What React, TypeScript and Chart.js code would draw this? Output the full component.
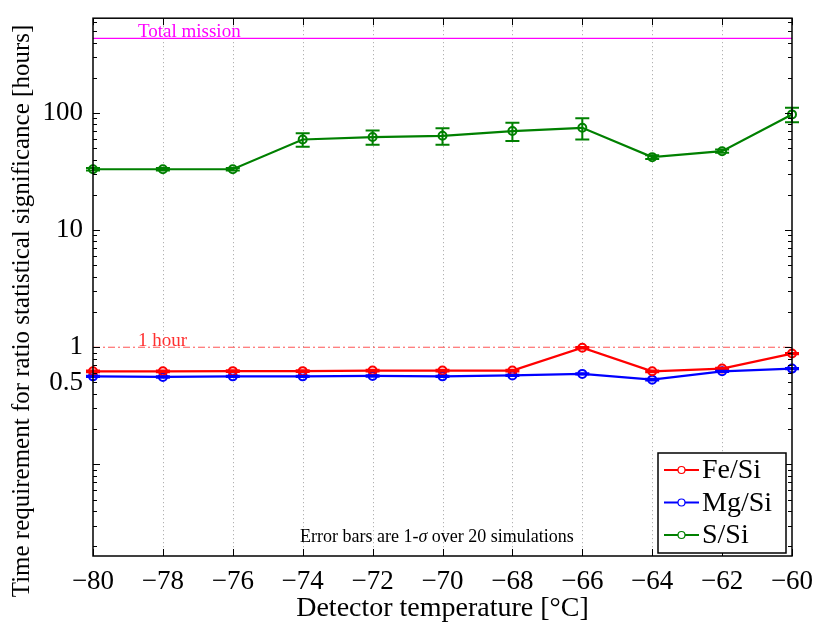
import { useEffect, useRef } from 'react';
import { Chart, registerables } from 'chart.js';
Chart.register(...registerables);

const TEMPS = [-80, -78, -76, -74, -72, -70, -68, -66, -64, -62, -60];
const FE_SI = [0.623, 0.623, 0.625, 0.625, 0.632, 0.632, 0.632, 0.99, 0.623, 0.657, 0.883];
const MG_SI = [0.564, 0.558, 0.564, 0.564, 0.569, 0.564, 0.575, 0.592, 0.529, 0.623, 0.657];
const S_SI = [33.1, 33.1, 33.1, 59.4, 62.3, 63.9, 70.1, 74.8, 42.0, 47.2, 97.3];
const FE_ERR = [0.01, 0.01, 0.01, 0.01, 0.01, 0.01, 0.01, 0.015, 0.01, 0.01, 0.012];
const MG_ERR = [0.008, 0.008, 0.008, 0.008, 0.008, 0.008, 0.008, 0.008, 0.008, 0.008, 0.008];
const S_ERR = [0.8, 0.8, 0.8, 7.9, 8.6, 10.3, 12.3, 15.4, 1.5, 1.5, 13.8];
const SERIES_LABELS = ['Fe/Si', 'Mg/Si', 'S/Si'];
const SERIES_COLORS = ['#ff0000', '#0000ff', '#008000'];
const TOTAL_MISSION = 433;
const ONE_HOUR = 1;
const Y_TICKS = [0.5, 1, 10, 100];
const X_TICKS = [-80, -78, -76, -74, -72, -70, -68, -66, -64, -62, -60];
const Y_MIN = 0.0165;
const Y_MAX = 645;
const TOTAL_LABEL = 'Total mission';
const HOUR_LABEL = '1 hour';
const NOTE_PARTS = ['Error bars are 1-', '\u03c3', ' over 20 simulations'];
const Y_TITLE = 'Time requirement for ratio statistical significance [hours]';
const X_TITLE = 'Detector temperature [\u00b0C]';

const FONT = "'Liberation Serif', 'Times New Roman', serif";

const fmtX = (v: number) => (v < 0 ? '\u2212' + Math.abs(v) : String(v));

const decor = {
  id: 'decor',
  beforeDatasetsDraw(chart: any) {
    const { ctx, chartArea: a, scales } = chart;
    const x = scales.x;
    ctx.save();
    ctx.strokeStyle = '#a0a0a0';
    ctx.lineWidth = 1;
    ctx.setLineDash([1, 3]);
    for (const t of X_TICKS) {
      if (t === X_TICKS[0] || t === X_TICKS[X_TICKS.length - 1]) continue;
      const px = Math.round(x.getPixelForValue(t)) + 0.5;
      ctx.beginPath();
      ctx.moveTo(px, a.top);
      ctx.lineTo(px, a.bottom);
      ctx.stroke();
    }
    ctx.restore();
  },
  afterDatasetsDraw(chart: any) {
    const { ctx, scales } = chart;
    const x = scales.x;
    const y = scales.y;
    const errs = [FE_ERR, MG_ERR, S_ERR];
    const vals = [FE_SI, MG_SI, S_SI];
    ctx.save();
    ctx.lineWidth = 2;
    for (let s = 0; s < 3; s++) {
      ctx.strokeStyle = SERIES_COLORS[s];
      TEMPS.forEach((t, i) => {
        const px = x.getPixelForValue(t);
        const lo = y.getPixelForValue(vals[s][i] - errs[s][i]);
        const hi = y.getPixelForValue(vals[s][i] + errs[s][i]);
        ctx.beginPath();
        ctx.moveTo(px, lo);
        ctx.lineTo(px, hi);
        ctx.moveTo(px - 7, lo);
        ctx.lineTo(px + 7, lo);
        ctx.moveTo(px - 7, hi);
        ctx.lineTo(px + 7, hi);
        ctx.stroke();
      });
    }
    ctx.restore();
  },
  afterDraw(chart: any) {
    const { ctx, chartArea: a, scales } = chart;
    const x = scales.x;
    const y = scales.y;
    ctx.save();
    ctx.strokeStyle = '#000';
    ctx.lineWidth = 1;
    for (const t of X_TICKS) {
      const px = Math.round(x.getPixelForValue(t)) + 0.5;
      ctx.beginPath();
      ctx.moveTo(px, a.bottom);
      ctx.lineTo(px, a.bottom - 7);
      ctx.moveTo(px, a.top);
      ctx.lineTo(px, a.top + 7);
      ctx.stroke();
    }
    for (let e = -2; e <= 2; e++) {
      for (let k = 1; k <= 9; k++) {
        const v = k * Math.pow(10, e);
        if (v < Y_MIN || v > Y_MAX) continue;
        const py = Math.round(y.getPixelForValue(v)) + 0.5;
        const len = k === 1 ? 7 : 4;
        ctx.beginPath();
        ctx.moveTo(a.left, py);
        ctx.lineTo(a.left + len, py);
        ctx.moveTo(a.right, py);
        ctx.lineTo(a.right - len, py);
        ctx.stroke();
      }
    }
    ctx.lineWidth = 1.5;
    ctx.strokeRect(a.left, a.top, a.right - a.left, a.bottom - a.top);

    // y title
    ctx.save();
    ctx.translate(22, 311);
    ctx.rotate(-Math.PI / 2);
    ctx.font = `25px ${FONT}`;
    ctx.fillStyle = '#000';
    ctx.textAlign = 'center';
    ctx.textBaseline = 'middle';
    ctx.fillText(Y_TITLE, 0, 0);
    ctx.restore();

    ctx.font = `19px ${FONT}`;
    ctx.textBaseline = 'alphabetic';
    ctx.textAlign = 'left';
    ctx.fillStyle = '#ff00ff';
    ctx.fillText(TOTAL_LABEL, a.left + 45, y.getPixelForValue(TOTAL_MISSION) - 1);
    ctx.fillStyle = '#ff3030';
    ctx.fillText(HOUR_LABEL, a.left + 45, y.getPixelForValue(ONE_HOUR) - 1.5);

    ctx.fillStyle = '#000';
    const f1 = `18px ${FONT}`;
    const f2 = `italic 18px ${FONT}`;
    ctx.font = f1;
    const w0 = ctx.measureText(NOTE_PARTS[0]).width;
    const w2 = ctx.measureText(NOTE_PARTS[2]).width;
    ctx.font = f2;
    const w1 = ctx.measureText(NOTE_PARTS[1]).width;
    const total = w0 + w1 + w2;
    let nx = a.left + (a.right - a.left) * 0.492 - total / 2;
    const ny = a.bottom - 14;
    ctx.font = f1;
    ctx.fillText(NOTE_PARTS[0], nx, ny);
    nx += w0;
    ctx.font = f2;
    ctx.fillText(NOTE_PARTS[1], nx, ny);
    nx += w1;
    ctx.font = f1;
    ctx.fillText(NOTE_PARTS[2], nx, ny);

    const bw = 128;
    const bh = 100;
    const bx = a.right - 6 - bw;
    const by = a.bottom - 3 - bh;
    ctx.fillStyle = '#fff';
    ctx.fillRect(bx, by, bw, bh);
    ctx.strokeStyle = '#000';
    ctx.lineWidth = 1.5;
    ctx.strokeRect(bx, by, bw, bh);
    ctx.font = `28px ${FONT}`;
    ctx.textBaseline = 'middle';
    SERIES_LABELS.forEach((lab, i) => {
      const ry = by + 17 + i * 32.5;
      ctx.strokeStyle = SERIES_COLORS[i];
      ctx.lineWidth = 2;
      ctx.beginPath();
      ctx.moveTo(bx + 6, ry);
      ctx.lineTo(bx + 41, ry);
      ctx.stroke();
      ctx.lineWidth = 1.2;
      ctx.fillStyle = '#fff';
      ctx.beginPath();
      ctx.arc(bx + 23.5, ry, 3.5, 0, Math.PI * 2);
      ctx.fill();
      ctx.stroke();
      ctx.fillStyle = '#000';
      ctx.fillText(lab, bx + 44, ry + 1);
    });
    ctx.restore();
  },
};

export default function App() {
  const ref = useRef<HTMLCanvasElement | null>(null);
  useEffect(() => {
    if (!ref.current) return;
    const mk = (arr: number[]) => TEMPS.map((t, i) => ({ x: t, y: arr[i] }));
    const seriesVals = [FE_SI, MG_SI, S_SI];
    const chart = new Chart(ref.current, {
      type: 'line',
      data: {
        datasets: [
          {
            label: 'Total mission',
            data: [
              { x: X_TICKS[0], y: TOTAL_MISSION },
              { x: X_TICKS[X_TICKS.length - 1], y: TOTAL_MISSION },
            ],
            borderColor: '#ff00ff',
            borderWidth: 1.3,
            pointRadius: 0,
          },
          {
            label: '1 hour',
            data: [
              { x: X_TICKS[0], y: ONE_HOUR },
              { x: X_TICKS[X_TICKS.length - 1], y: ONE_HOUR },
            ],
            borderColor: 'rgba(255,40,40,0.8)',
            borderWidth: 1,
            borderDash: [7, 3, 2, 3],
            pointRadius: 0,
          },
          ...SERIES_LABELS.map((lab, i) => ({
            label: lab,
            data: mk(seriesVals[i]),
            borderColor: SERIES_COLORS[i],
            borderWidth: 2.2,
            pointRadius: 4,
            pointBorderWidth: 2,
            pointBackgroundColor: 'rgba(255,255,255,0)',
            pointBorderColor: SERIES_COLORS[i],
            tension: 0,
            clip: false,
          })),
        ],
      } as any,
      options: {
        responsive: false,
        animation: false,
        layout: { padding: { left: 0, top: 15, right: 25, bottom: 0 } },
        plugins: { legend: { display: false }, tooltip: { enabled: false } },
        scales: {
          x: {
            type: 'linear',
            min: X_TICKS[0],
            max: X_TICKS[X_TICKS.length - 1],
            afterBuildTicks: (s: any) => {
              s.ticks = X_TICKS.map((v) => ({ value: v }));
            },
            afterFit: (s: any) => {
              s.height = 71;
            },
            grid: { display: false },
            border: { display: false },
            ticks: {
              color: '#000',
              font: { family: FONT, size: 27 },
              padding: 2,
              maxRotation: 0,
              autoSkip: false,
              callback: (v: any) => fmtX(Number(v)),
            },
            title: {
              display: true,
              text: X_TITLE,
              color: '#000',
              font: { family: FONT, size: 28 },
              padding: { top: 0, bottom: 2 },
            },
          },
          y: {
            type: 'logarithmic',
            min: Y_MIN,
            max: Y_MAX,
            afterBuildTicks: (s: any) => {
              s.ticks = Y_TICKS.map((v) => ({ value: v }));
            },
            afterFit: (s: any) => {
              s.width = 93;
            },
            grid: { display: false },
            border: { display: false },
            ticks: {
              color: '#000',
              font: { family: FONT, size: 27 },
              padding: 2,
              autoSkip: false,
              callback: (v: any) => String(Number(v)),
            },
            title: { display: false },
          },
        },
      } as any,
      plugins: [decor],
    });
    return () => chart.destroy();
  }, []);
  return (
    <div style={{ position: 'absolute', left: 0, top: 0, width: 817, height: 627, background: '#fff' }}>
      <canvas ref={ref} width={817} height={627} />
    </div>
  );
}
